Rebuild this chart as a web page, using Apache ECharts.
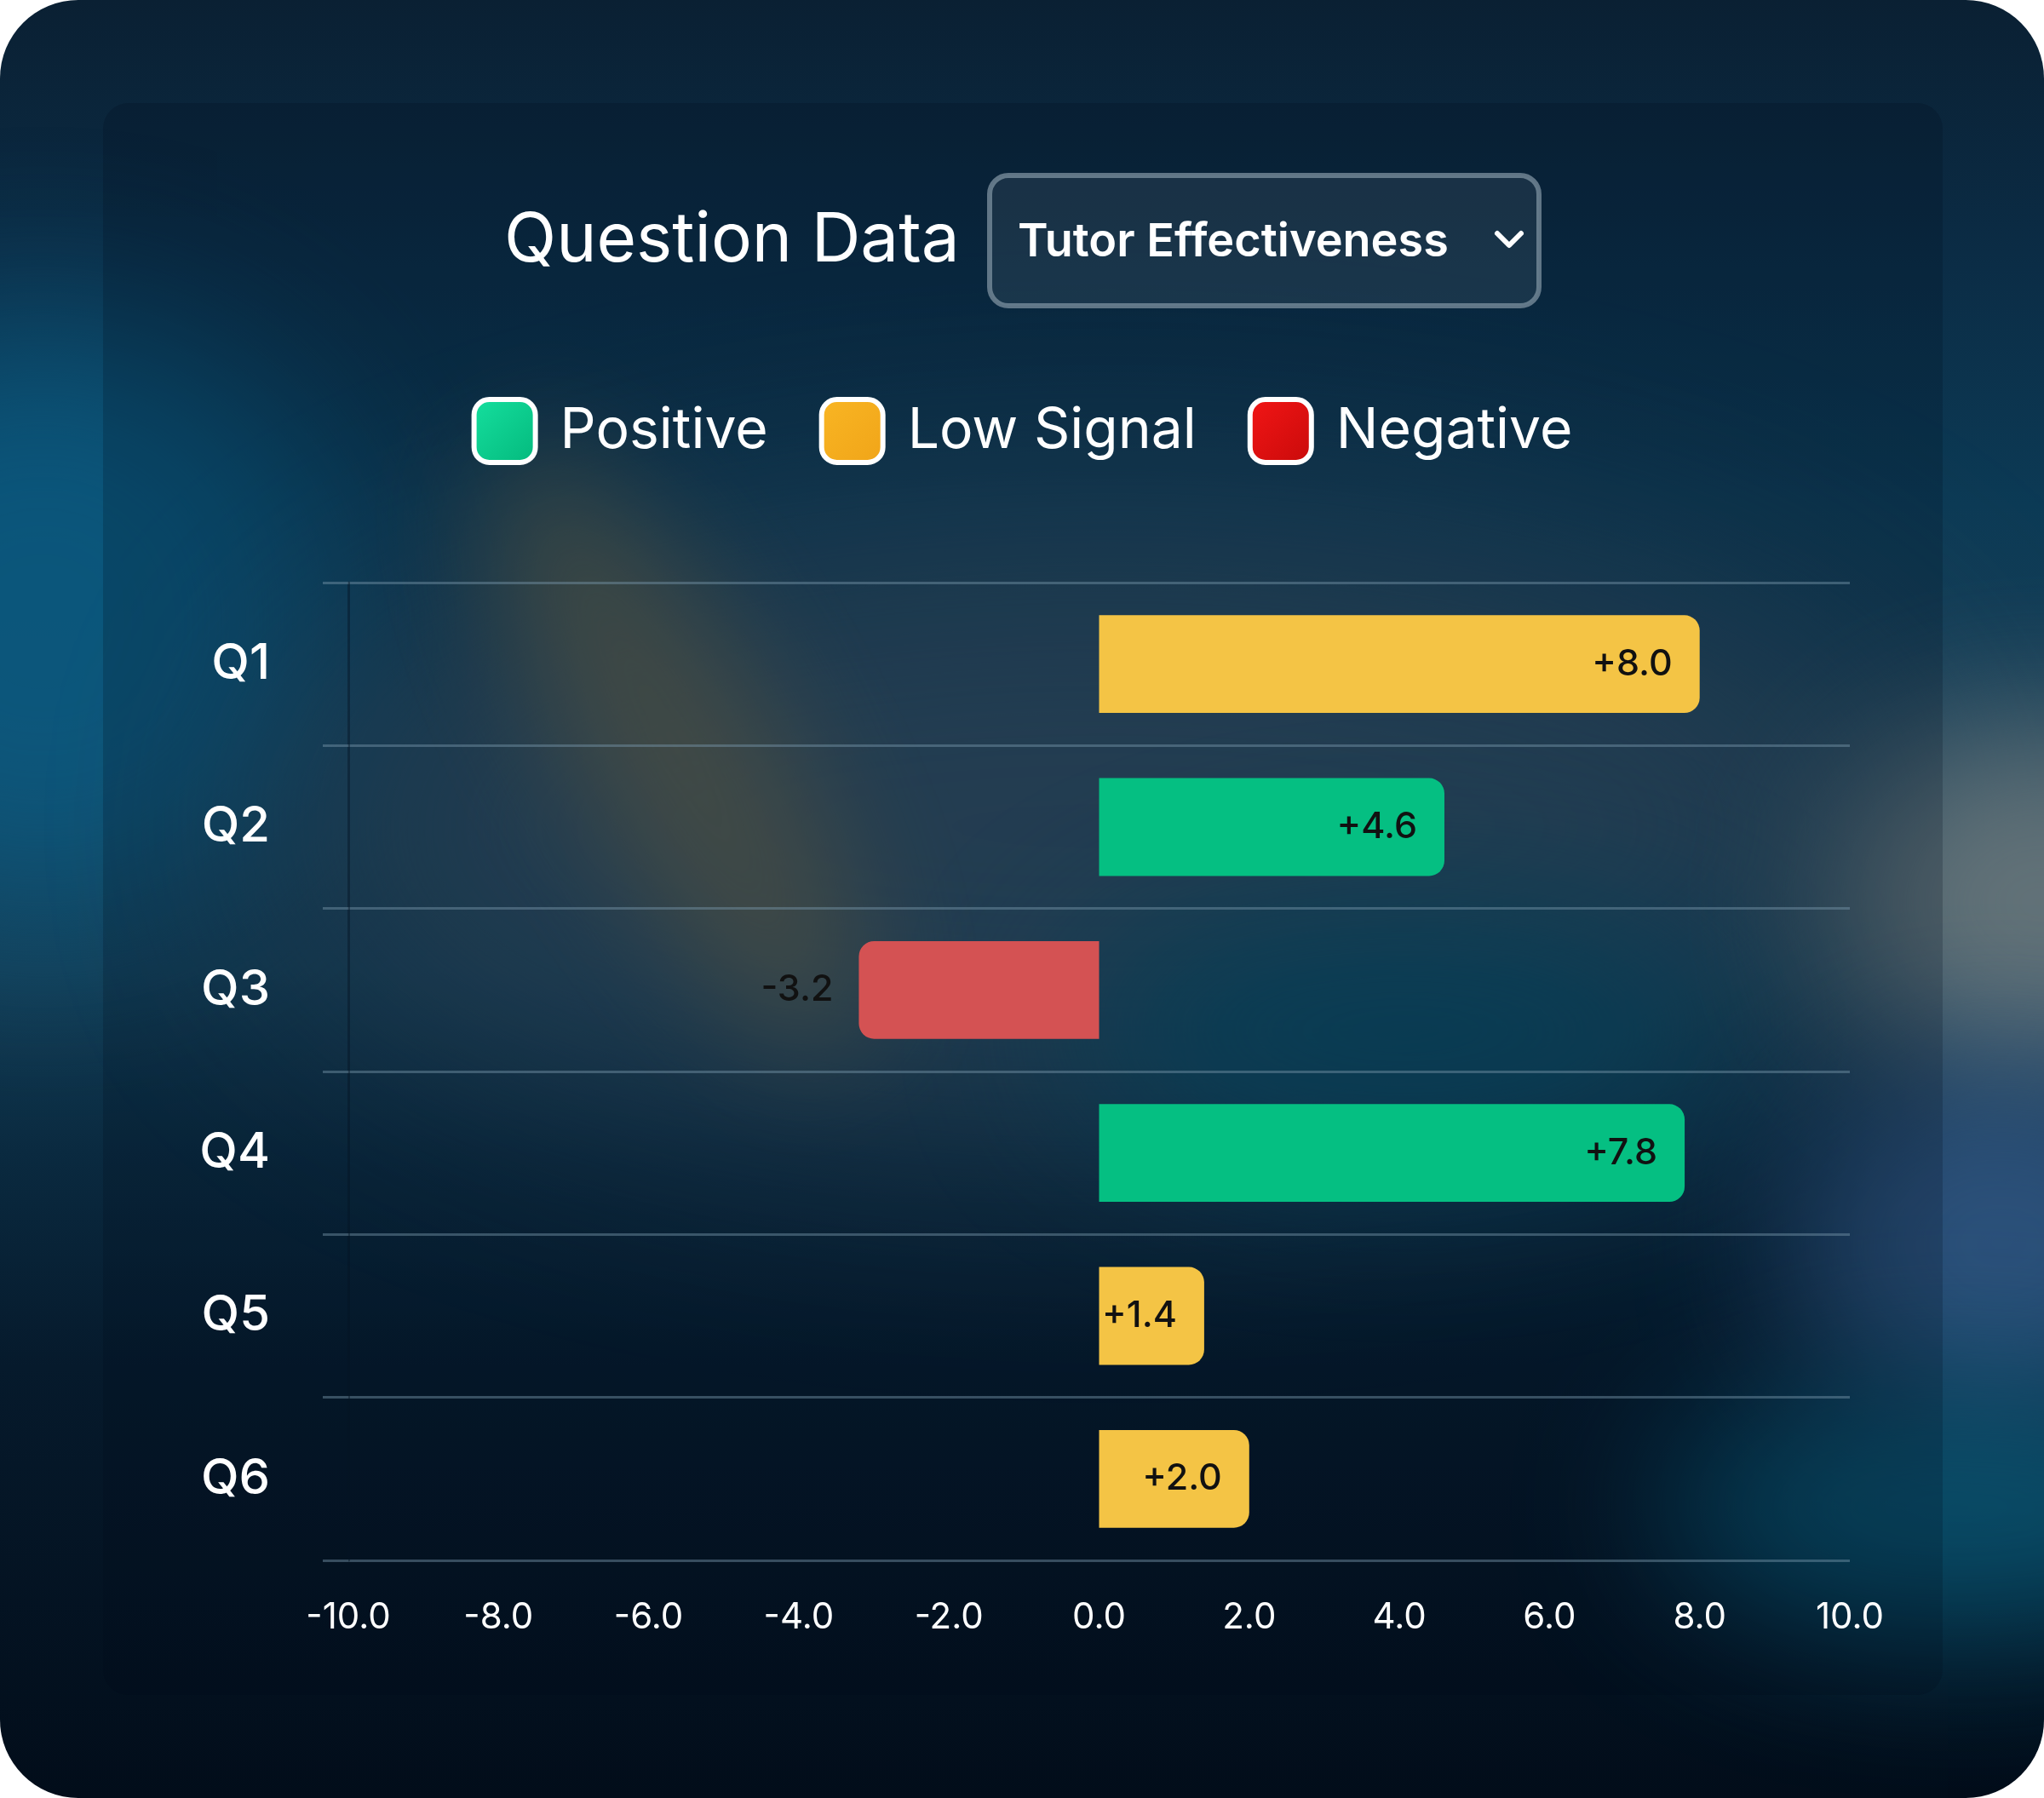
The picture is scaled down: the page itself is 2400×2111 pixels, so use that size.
<!DOCTYPE html>
<html>
<head>
<meta charset="utf-8">
<script src="https://cdn.jsdelivr.net/npm/echarts@6/dist/echarts.min.js"></script>
<style>
  html, body { margin: 0; padding: 0; background: #ffffff; }
  #card {
    position: absolute; left: 0; top: 0; width: 2400px; height: 2111px;
    border-radius: 92px; overflow: hidden;
    background: linear-gradient(180deg, #0a2033 0%, #0b2c45 14%, #0c3a55 28%, #173f57 42%, #143d55 54%, #0a2a40 64%, #061a2c 76%, #020d1a 100%);
  }
  .blob { position: absolute; border-radius: 50%; }
  #panel {
    position: absolute; left: 121px; top: 121px; width: 2160px; height: 1869px;
    border-radius: 30px; background: rgba(1,12,24,0.2);
  }
  #chart { position: absolute; left: 0; top: 0; width: 2400px; height: 2111px; }
</style>
</head>
<body>
<div id="card">
  <div class="blob" style="left:-300px;top:380px;width:700px;height:700px;background:#0b5b82;filter:blur(110px);opacity:0.85"></div>
  <div class="blob" style="left:350px;top:620px;width:1900px;height:700px;background:#2e4b60;filter:blur(150px);opacity:0.95"></div>
  <div class="blob" style="left:1250px;top:1060px;width:800px;height:300px;background:#074a64;filter:blur(100px);opacity:0.9"></div>
  <div class="blob" style="left:680px;top:480px;width:230px;height:800px;background:#5f604d;filter:blur(70px);opacity:0.75;transform:rotate(-29deg)"></div>
  <div class="blob" style="left:2150px;top:850px;width:500px;height:420px;background:#6b787c;filter:blur(90px);opacity:0.9"></div>
  <div class="blob" style="left:2100px;top:1250px;width:500px;height:420px;background:#305682;filter:blur(90px);opacity:0.9"></div>
  <div class="blob" style="left:1950px;top:1620px;width:700px;height:300px;background:#0a5a78;filter:blur(90px);opacity:0.8"></div>
  <div id="panel"></div>
</div>
<div id="chart"></div>
<script>
const categories = ['Q1', 'Q2', 'Q3', 'Q4', 'Q5', 'Q6'];
const scores = [8.0, 4.6, -3.2, 7.8, 1.4, 2.0];
const signals = ['Low Signal', 'Positive', 'Negative', 'Positive', 'Low Signal', 'Low Signal'];
const signalNames = ['Positive', 'Low Signal', 'Negative'];
const xTicks = { min: -10, max: 10, interval: 2 };

const barColors = { 'Positive': '#05bf82', 'Low Signal': '#f4c445', 'Negative': '#d45253' };
const legendColors = {
  'Positive': ['#16e09f', '#03b87c'],
  'Low Signal': ['#f9b624', '#f0a418'],
  'Negative': ['#f31616', '#c80a0a']
};

const chart = echarts.init(document.getElementById('chart'));

const series = signalNames.map(name => ({
  name: name,
  type: 'bar',
  stack: 'score',
  barWidth: '60%',
  itemStyle: { color: barColors[name] },
  label: {
    show: true,
    color: '#111111',
    fontFamily: 'Inter',
    fontSize: 43,
    fontWeight: 500,
    formatter: p => (p.value > 0 ? '+' : '') + p.value.toFixed(1)
  },
  data: scores.map((v, i) => {
    if (signals[i] !== name) return '-';
    return {
      value: v,
      itemStyle: { borderRadius: v >= 0 ? [0, 18, 18, 0] : [18, 0, 0, 18] },
      label: v >= 0 ? { position: 'insideRight', distance: 32 } : { position: 'left', distance: 30 }
    };
  })
}));

chart.setOption({
  backgroundColor: 'transparent',
  animation: false,
  legend: {
    top: 461,
    left: 'center',
    selectedMode: false,
    itemWidth: 72,
    itemHeight: 74,
    itemGap: 60,
    icon: 'roundRect',
    textStyle: { color: '#ffffff', fontFamily: 'Inter', fontSize: 66, padding: [0, 0, 0, 24] },
    data: signalNames.map(name => ({
      name: name,
      itemStyle: {
        color: new echarts.graphic.LinearGradient(0, 0, 1, 1, [
          { offset: 0, color: legendColors[name][0] },
          { offset: 1, color: legendColors[name][1] }
        ]),
        borderColor: '#ffffff',
        borderWidth: 6
      }
    }))
  },
  grid: { left: 409, right: 228, top: 684, bottom: 279, outerBoundsMode: 'none' },
  xAxis: {
    type: 'value',
    min: xTicks.min,
    max: xTicks.max,
    interval: xTicks.interval,
    axisLine: { show: false },
    axisTick: { show: false },
    splitLine: { show: false },
    axisLabel: {
      color: '#ffffff',
      fontFamily: 'Inter',
      fontSize: 42,
      margin: 46,
      formatter: v => v.toFixed(1)
    }
  },
  yAxis: {
    type: 'category',
    inverse: true,
    data: categories,
    axisLine: { show: true, onZero: false, lineStyle: { color: 'rgba(5,20,35,0.45)', width: 3 } },
    axisTick: { show: true, length: 30, lineStyle: { color: 'rgba(120,150,170,0.45)', width: 3 } },
    splitLine: { show: true, lineStyle: { color: 'rgba(120,150,170,0.45)', width: 3 } },
    axisLabel: {
      color: '#ffffff',
      fontFamily: 'Inter',
      fontSize: 58,
      fontWeight: 500,
      margin: 92
    }
  },
  graphic: [
    {
      type: 'text',
      x: 592,
      y: 283,
      style: {
        text: 'Question Data',
        fill: '#ffffff',
        font: '400 80px Inter',
        textVerticalAlign: 'middle'
      }
    },
    {
      type: 'rect',
      shape: { x: 1162, y: 206, width: 645, height: 153, r: 22 },
      style: { fill: 'rgba(255,255,255,0.07)', stroke: 'rgba(125,145,160,0.75)', lineWidth: 6 }
    },
    {
      type: 'text',
      x: 1195,
      y: 285,
      style: {
        text: 'Tutor Effectiveness',
        fill: '#ffffff',
        font: '600 54px Inter',
        textVerticalAlign: 'middle'
      }
    },
    {
      type: 'polyline',
      shape: { points: [[1758, 274], [1772, 288], [1786, 274]] },
      style: { stroke: '#ffffff', lineWidth: 6, fill: null, lineCap: 'round', lineJoin: 'round' }
    }
  ],
  series: series
});
</script>
</body>
</html>
